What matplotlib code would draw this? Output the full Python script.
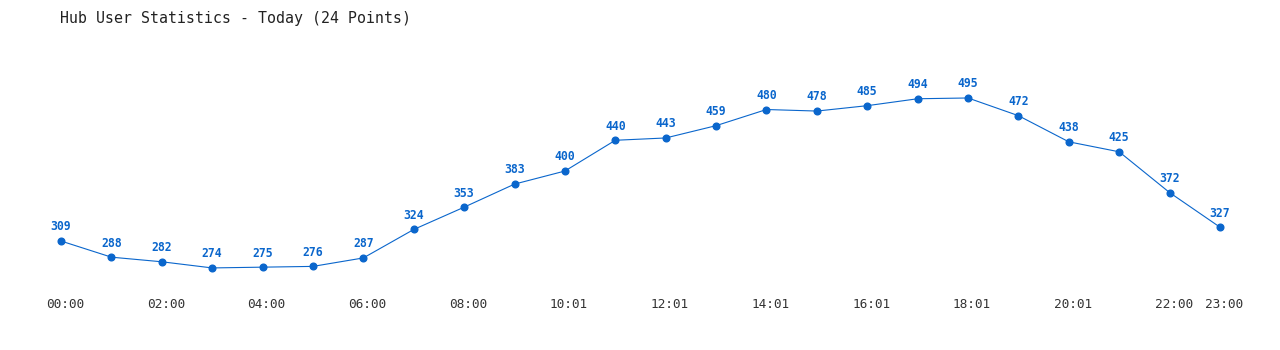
import matplotlib
matplotlib.use("Agg")
import matplotlib.pyplot as plt
import matplotlib.transforms as mtransforms

# Hub user counts, one per hour
hours = ['00:00', '01:00', '02:00', '03:00', '04:00', '05:00', '06:00', '07:00',
         '08:00', '09:00', '10:01', '11:01', '12:01', '13:01', '14:01', '15:01',
         '16:01', '17:01', '18:01', '19:01', '20:01', '21:01', '22:00', '23:00']
users = [309, 288, 282, 274, 275, 276, 287, 324, 353, 383, 400, 440,
         443, 459, 480, 478, 485, 494, 495, 472, 438, 425, 372, 327]
tick_idx = [0, 2, 4, 6, 8, 10, 12, 14, 16, 18, 20, 22, 23]

blue = '#0a66cc'
mono = 'DejaVu Sans Mono'

fig = plt.figure(figsize=(12.8, 3.5), dpi=100)
ax = fig.add_axes([0, 60/350, 1, 250/350])

x = list(range(len(users)))
ax.plot(x, users, color=blue, lw=0.8, marker='o', markersize=4.8)

for i, v in zip(x, users):
    ax.annotate(str(v), (i, v), xytext=(0, 5.5), textcoords='offset points',
                ha='center', va='bottom', color=blue, fontsize=8.3,
                fontweight='bold', family=mono)

ax.set_xlim(-61/50.39, (1280-61)/50.39)
ax.set_ylim(245.3, 570.4)
ax.set_xticks(tick_idx)
ax.set_xticklabels([hours[i] for i in tick_idx], family=mono, fontsize=9.2, color='#333333')
ax.tick_params(axis='x', length=0, pad=6)
ax.set_yticks([])
for s in ax.spines.values():
    s.set_visible(False)

# labels sit a few pixels right of their points
off = mtransforms.ScaledTranslation(4/100, 0, fig.dpi_scale_trans)
for lab in ax.get_xticklabels():
    lab.set_transform(lab.get_transform() + off)

fig.text(60/1280, 1 - 18/350, 'Hub User Statistics - Today (24 Points)',
         family=mono, fontsize=10.7, color='#222222', va='center', ha='left')

fig.savefig('out.png', dpi=100)
